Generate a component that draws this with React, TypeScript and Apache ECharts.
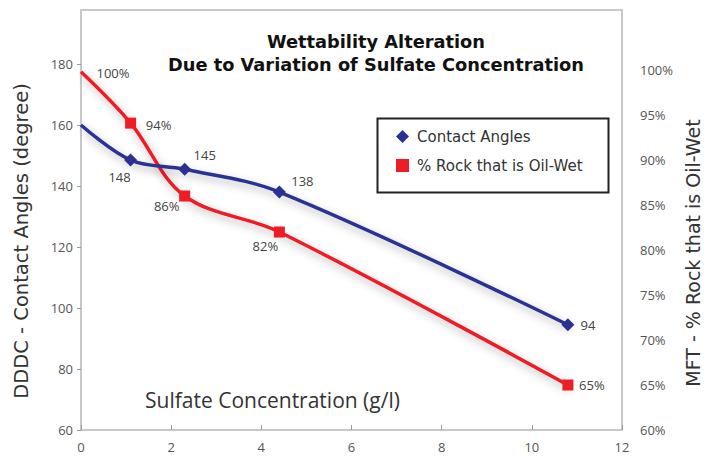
import React, { useEffect, useRef } from "react";
import * as echarts from "echarts";

const xValues = [0, 1.1, 2.3, 4.4, 10.8];
const contactAngles = [160, 148.5, 145.5, 138, 94.5];
const contactLabels = ["", "148", "145", "138", "94"];
const contactOffsets = [[0, 0], [-11, 17], [20, -14], [23, -11], [20, 0]];
const oilWetPct = [99.8, 94.1, 86, 82, 65];
const oilWetLabels = ["100%", "94%", "86%", "82%", "65%"];
const oilWetOffsets = [[32, 1], [28, 2], [-18, 10], [-14, 14], [24, 0]];
const leftTicks = [60, 80, 100, 120, 140, 160, 180];
const rightTicks = [60, 65, 70, 75, 80, 85, 90, 95, 100];
const xTicks = [0, 2, 4, 6, 8, 10, 12];

const FONT = "'Open Sans', Lato, sans-serif";
const WIDE = "'DejaVu Sans', 'Open Sans', sans-serif";
const BLUE = "#2B3192";
const RED = "#EE1C25";

export default function App() {
  const ref = useRef<HTMLDivElement>(null);
  useEffect(() => {
    if (!ref.current) return;
    const chart = echarts.init(ref.current, null, { renderer: "svg" });
    const shadow = {
      shadowColor: "rgba(0,0,0,0.3)",
      shadowBlur: 8,
      shadowOffsetX: 2,
      shadowOffsetY: 4,
    };
    chart.setOption({
      animation: false,
      backgroundColor: "#fff",
      textStyle: { fontFamily: FONT },
      title: {
        text: "Wettability Alteration\nDue to Variation of Sulfate Concentration",
        left: 371,
        top: 25,
        textAlign: "center",
        textStyle: { fontSize: 17.8, fontWeight: "bold", color: "#111", lineHeight: 23, fontFamily: WIDE },
      },
      grid: {
        left: 81,
        right: 91,
        top: 10,
        bottom: 26,
        show: true,
        borderColor: "#c8c8c8",
        borderWidth: 2,
        containLabel: false,
      },
      legend: {
        orient: "vertical",
        left: 391,
        top: 124,
        itemGap: 14,
        itemWidth: 13,
        itemHeight: 13,
        textStyle: { fontSize: 15, color: "#333", fontFamily: WIDE, padding: [0, 0, 0, 3] },
        data: [
          { name: "Contact Angles", icon: "diamond" },
          { name: "% Rock that is Oil-Wet", icon: "rect" },
        ],
      },
      graphic: [
        {
          type: "rect",
          left: 375,
          top: 116,
          shape: { width: 231, height: 74 },
          style: { fill: "none", stroke: "#222", lineWidth: 2 },
          z: 1,
        },
        {
          type: "text",
          left: 145,
          top: 389,
          style: { text: "Sulfate Concentration (g/l)", fontSize: 21, fill: "#333", fontFamily: FONT },
        },
      ],
      xAxis: {
        type: "value",
        min: 0,
        max: 12,
        interval: 2,
        axisLine: { show: false },
        splitLine: { show: false },
        axisTick: { show: true, inside: true, length: 5, lineStyle: { color: "#999" }, customValues: xTicks },
        axisLabel: { color: "#555", fontSize: 13, margin: 10, customValues: xTicks },
      },
      yAxis: [
        {
          type: "value",
          min: 60,
          max: 197.7,
          interval: 20,
          position: "left",
          name: "DDDC - Contact Angles (degree)",
          nameLocation: "middle",
          nameGap: 50,
          nameTextStyle: { fontSize: 19.5, color: "#333", fontFamily: WIDE, padding: [0, 42, 0, 0] },
          axisLine: { show: false },
          splitLine: { show: false },
          axisTick: { show: true, length: 4, lineStyle: { color: "#999" }, customValues: leftTicks },
          axisLabel: { color: "#555", fontSize: 13, margin: 8, customValues: leftTicks },
        },
        {
          type: "value",
          min: 60,
          max: 106.67,
          interval: 5,
          position: "right",
          name: "MFT - % Rock that is Oil-Wet",
          nameLocation: "middle",
          nameGap: 56,
          nameTextStyle: { fontSize: 19, color: "#333", fontFamily: WIDE, padding: [0, 66, 0, 0] },
          axisLine: { show: false },
          splitLine: { show: false },
          axisTick: { show: false },
          axisLabel: { color: "#555", fontSize: 13, margin: 18, formatter: (v: number) => v + "%", customValues: rightTicks },
        },
      ],
      series: [
        {
          name: "Contact Angles",
          type: "line",
          yAxisIndex: 0,
          smooth: 0.35,
          symbol: "diamond",
          symbolSize: 13,
          color: BLUE,
          lineStyle: { width: 3.5, color: BLUE, ...shadow },
          data: xValues.map((x, i) => ({
            value: [x, contactAngles[i]],
            symbolSize: i === 0 ? 0 : 13,
            label: {
              show: contactLabels[i] !== "",
              formatter: contactLabels[i],
              position: "inside",
              offset: contactOffsets[i],
              color: "#444",
              fontSize: 13,
            },
          })),
          z: 3,
        },
        {
          name: "% Rock that is Oil-Wet",
          type: "line",
          yAxisIndex: 1,
          smooth: 0.35,
          symbol: "rect",
          symbolSize: 11,
          color: RED,
          lineStyle: { width: 3.5, color: RED, ...shadow },
          data: xValues.map((x, i) => ({
            value: [x, oilWetPct[i]],
            symbolSize: i === 0 ? 0.1 : 11,
            label: {
              show: true,
              formatter: oilWetLabels[i],
              position: "inside",
              offset: oilWetOffsets[i],
              color: "#444",
              fontSize: 13,
            },
          })),
          z: 2,
        },
      ],
    });
    return () => chart.dispose();
  }, []);
  return <div ref={ref} style={{ position: "fixed", left: 0, top: 0, width: 713, height: 456 }} />;
}
